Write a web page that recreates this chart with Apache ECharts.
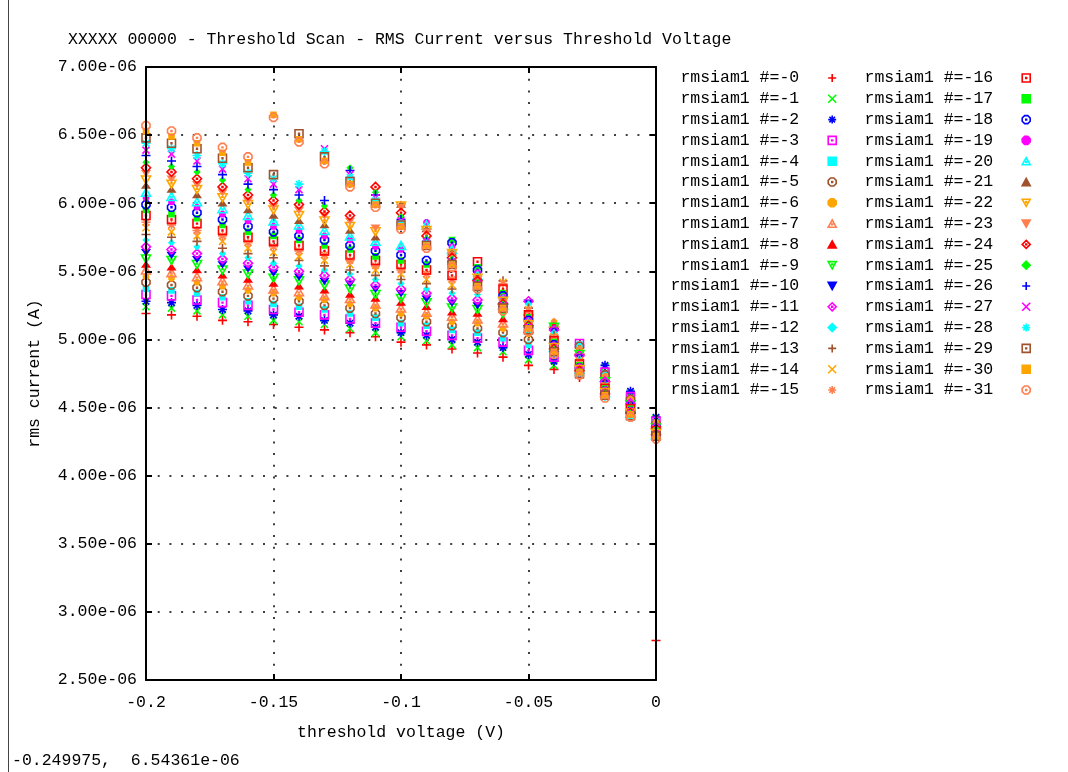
<!DOCTYPE html>
<html>
<head>
<meta charset="utf-8">
<script src="https://cdn.jsdelivr.net/npm/echarts@6/dist/echarts.min.js"></script>
<style>
  html, body { margin: 0; padding: 0; background: #fff; }
  #chart { width: 1068px; height: 772px; }
</style>
</head>
<body>
<div id="chart"></div>
<script>
// Threshold voltage steps (V)
const thresholdVoltage = [-0.20, -0.19, -0.18, -0.17, -0.16, -0.15, -0.14, -0.13, -0.12, -0.11,
                          -0.10, -0.09, -0.08, -0.07, -0.06, -0.05, -0.04, -0.03, -0.02, -0.01, 0];

// RMS current per channel, in units of 1e-06 A, one value per threshold step
const ch0  = [5.19,5.18,5.17,5.14,5.13,5.11,5.09,5.07,5.05,5.02,4.98,4.96,4.93,4.90,4.87,4.81,4.78,4.72,4.77,4.58,2.79];
const ch1  = [5.24,5.23,5.21,5.18,5.17,5.14,5.13,5.11,5.08,5.05,5.02,4.99,4.96,4.94,4.91,4.85,4.81,4.76,4.80,4.61,4.42];
const ch2  = [5.28,5.27,5.25,5.22,5.21,5.18,5.17,5.14,5.12,5.09,5.05,5.03,5.00,4.98,4.94,4.89,4.84,4.78,4.81,4.62,4.43];
const ch3  = [5.33,5.32,5.29,5.27,5.25,5.22,5.20,5.18,5.15,5.12,5.09,5.06,5.03,5.01,4.98,4.92,4.87,4.97,4.76,4.58,4.40];
const ch4  = [5.37,5.36,5.34,5.31,5.28,5.26,5.24,5.22,5.19,5.16,5.12,5.10,5.07,5.05,5.01,4.96,4.90,4.96,4.75,4.57,4.39];
const ch5  = [5.42,5.40,5.38,5.35,5.32,5.30,5.28,5.25,5.23,5.19,5.16,5.13,5.10,5.08,5.05,5.00,4.93,4.95,4.74,4.56,4.38];
const ch6  = [5.46,5.45,5.42,5.39,5.36,5.34,5.31,5.29,5.26,5.23,5.19,5.17,5.13,5.12,5.08,5.04,5.13,4.93,4.73,4.56,4.39];
const ch7  = [5.51,5.49,5.46,5.43,5.40,5.37,5.35,5.32,5.30,5.26,5.23,5.20,5.17,5.15,5.12,5.08,5.12,4.92,4.72,4.55,4.38];
const ch8  = [5.55,5.53,5.51,5.47,5.44,5.41,5.39,5.36,5.33,5.30,5.27,5.24,5.20,5.19,5.15,5.11,5.10,4.90,4.70,4.53,4.36];
const ch9  = [5.59,5.58,5.55,5.51,5.48,5.45,5.43,5.40,5.37,5.33,5.30,5.27,5.23,5.22,5.19,5.15,5.09,4.89,4.69,4.52,4.35];
const ch10 = [5.64,5.62,5.59,5.55,5.52,5.49,5.46,5.43,5.41,5.37,5.34,5.30,5.27,5.25,5.22,5.27,5.06,4.87,4.68,4.52,4.35];
const ch11 = [5.68,5.66,5.63,5.59,5.56,5.53,5.50,5.47,5.44,5.40,5.37,5.34,5.30,5.29,5.26,5.28,5.07,4.88,4.69,4.53,4.36];
const ch12 = [5.73,5.71,5.68,5.63,5.60,5.56,5.54,5.51,5.48,5.44,5.41,5.37,5.34,5.33,5.30,5.26,5.05,4.86,4.67,4.51,4.34];
const ch13 = [5.77,5.75,5.72,5.67,5.63,5.60,5.58,5.54,5.51,5.47,5.44,5.41,5.37,5.36,5.43,5.23,5.03,4.85,4.67,4.51,4.35];
const ch14 = [5.82,5.79,5.76,5.72,5.67,5.64,5.61,5.58,5.55,5.51,5.48,5.44,5.40,5.39,5.42,5.22,5.02,4.84,4.66,4.50,4.34];
const ch15 = [5.86,5.84,5.80,5.76,5.71,5.68,5.65,5.62,5.58,5.54,5.51,5.48,5.44,5.43,5.41,5.21,5.01,4.83,4.65,4.49,4.33];
const ch16 = [5.91,5.88,5.85,5.80,5.75,5.72,5.69,5.65,5.62,5.58,5.55,5.51,5.47,5.57,5.37,5.18,4.99,4.82,4.64,4.49,4.33];
const ch17 = [5.95,5.92,5.89,5.84,5.79,5.76,5.73,5.69,5.66,5.61,5.58,5.55,5.73,5.53,5.34,5.16,4.98,4.81,4.64,4.49,4.33];
const ch18 = [5.99,5.97,5.93,5.88,5.83,5.79,5.76,5.73,5.69,5.65,5.62,5.58,5.71,5.51,5.32,5.14,4.96,4.79,4.62,4.47,4.31];
const ch19 = [6.04,6.01,5.97,5.92,5.87,5.83,5.80,5.76,5.73,5.68,5.66,5.86,5.68,5.49,5.31,5.14,4.96,4.80,4.63,4.48,4.32];
const ch20 = [6.08,6.05,6.01,5.96,5.91,5.87,5.84,5.80,5.76,5.72,5.69,5.84,5.66,5.47,5.29,5.12,4.94,4.78,4.61,4.46,4.30];
const ch21 = [6.13,6.10,6.06,6.00,5.95,5.91,5.87,5.84,5.80,5.75,5.99,5.81,5.64,5.46,5.29,5.12,4.95,4.79,4.62,4.47,4.32];
const ch22 = [6.17,6.14,6.10,6.04,5.99,5.95,5.91,5.87,5.83,5.79,5.98,5.80,5.63,5.45,5.28,5.11,4.94,4.78,4.61,4.46,4.31];
const ch23 = [6.22,6.18,6.14,6.08,6.02,5.98,5.95,5.91,5.87,5.82,5.97,5.79,5.62,5.44,5.27,5.10,4.93,4.77,4.60,4.45,4.30];
const ch24 = [6.26,6.23,6.18,6.12,6.06,6.02,5.99,5.94,5.91,6.12,5.93,5.76,5.60,5.43,5.26,5.10,4.93,4.77,4.60,4.46,4.30];
const ch25 = [6.30,6.27,6.23,6.17,6.10,6.06,6.02,5.98,6.26,6.08,5.90,5.74,5.59,5.42,5.26,5.10,4.93,4.77,4.61,4.46,4.31];
const ch26 = [6.35,6.31,6.27,6.21,6.14,6.10,6.06,6.02,6.24,6.06,5.88,5.72,5.57,5.40,5.24,5.08,4.91,4.75,4.59,4.44,4.29];
const ch27 = [6.39,6.36,6.31,6.25,6.18,6.14,6.10,6.40,6.21,6.04,5.87,5.72,5.57,5.41,5.25,5.09,4.92,4.77,4.60,4.46,4.30];
const ch28 = [6.44,6.40,6.35,6.29,6.22,6.18,6.14,6.38,6.19,6.02,5.85,5.70,5.55,5.39,5.23,5.07,4.90,4.75,4.58,4.44,4.28];
const ch29 = [6.48,6.44,6.40,6.33,6.26,6.21,6.51,6.34,6.16,6.00,5.84,5.69,5.55,5.39,5.23,5.07,4.91,4.75,4.59,4.44,4.29];
const ch30 = [6.53,6.49,6.44,6.37,6.30,6.65,6.47,6.31,6.14,5.99,5.83,5.69,5.55,5.39,5.23,5.08,4.91,4.76,4.59,4.45,4.29];
const ch31 = [6.57,6.53,6.48,6.41,6.34,6.63,6.45,6.29,6.12,5.97,5.81,5.67,5.53,5.37,5.21,5.06,4.89,4.74,4.57,4.43,4.27];

const channels = [ch0, ch1, ch2, ch3, ch4, ch5, ch6, ch7, ch8, ch9, ch10, ch11, ch12, ch13, ch14, ch15,
                  ch16, ch17, ch18, ch19, ch20, ch21, ch22, ch23, ch24, ch25, ch26, ch27, ch28, ch29, ch30, ch31];

// Axis ticks (y in units of 1e-06 A)
const xTicks = { min: -0.2, max: 0, interval: 0.05 };
const yTicks = { min: 2.5, max: 7.0, interval: 0.5 };

const titleText = 'XXXXX 00000 - Threshold Scan - RMS Current versus Threshold Voltage';
const xName = 'threshold voltage (V)';
const yName = 'rms current (A)';
const cursorReadout = '-0.249975,  6.54361e-06';

const FONT = '"Liberation Mono", "DejaVu Sans Mono", monospace';
const FS = 16.5;

// Plotting colour cycle
const COLORS = ['#ff0000', '#00ff00', '#0000ff', '#ff00ff', '#00ffff', '#a0522d', '#ffa500', '#ff7f50'];

// Point type cycle: plus, cross, star, open/filled square, circle, triangle, inverted triangle, diamond
const POINT_TYPES = [
  { path: 'path://M5,0V10M0,5H10', filled: false, size: [9, 9] },
  { path: 'path://M0,0L10,10M10,0L0,10', filled: false, size: [7, 7] },
  { path: 'path://M5,0V10M0,5H10M1.5,1.5L8.5,8.5M8.5,1.5L1.5,8.5', filled: false, size: [9, 9] },
  { path: 'path://M0,0H10V10H0ZM4.5,4.5H5.5V5.5H4.5Z', filled: false, size: [8, 8] },
  { path: 'path://M0,0H10V10H0Z', filled: true, size: [5, 5] },
  { path: 'path://M3,0H7L10,3V7L7,10H3L0,7V3ZM4.5,4.5H5.5V5.5H4.5Z', filled: false, size: [8, 8] },
  { path: 'path://M3,0H7L10,3V7L7,10H3L0,7V3Z', filled: true, size: [5, 5] },
  { path: 'path://M5,0L10,9H0ZM4.5,5H5.5V6H4.5Z', filled: false, size: [9, 8] },
  { path: 'path://M5,0L10,9H0Z', filled: true, size: [7, 5] },
  { path: 'path://M0,0H10L5,9ZM4.5,3H5.5V4H4.5Z', filled: false, size: [9, 8] },
  { path: 'path://M0,0H10L5,9Z', filled: true, size: [7, 5] },
  { path: 'path://M5,0L10,5L5,10L0,5ZM4.5,4.5H5.5V5.5H4.5Z', filled: false, size: [9, 9] },
  { path: 'path://M5,0L10,5L5,10L0,5Z', filled: true, size: [5, 5] }
];

const names = channels.map((_, k) => 'rmsiam1 #=-' + k);

const series = channels.map((vals, k) => {
  const pt = POINT_TYPES[k % POINT_TYPES.length];
  const c = COLORS[k % COLORS.length];
  return {
    name: names[k],
    type: 'scatter',
    xAxisIndex: 0,
    yAxisIndex: 0,
    symbol: pt.path,
    symbolSize: pt.size,
    clip: false,
    silent: true,
    animation: false,
    itemStyle: {
      color: pt.filled ? c : 'rgba(0,0,0,0)',
      borderColor: c,
      borderWidth: 1.6,
      opacity: 1
    },
    emphasis: { disabled: true },
    data: thresholdVoltage.map((x, i) => [x, vals[i]])
  };
});

const txt = { fontFamily: FONT, fontSize: FS, color: '#000' };
const dotted = { color: '#000', width: 1.5, type: [2, 9.7] };
const frameLine = { show: true, onZero: false, lineStyle: { color: '#000', width: 2 } };
const frameTick = { show: true, inside: true, length: 6, lineStyle: { color: '#000', width: 2 } };

function frameAxis(position, ticks) {
  return Object.assign({
    type: 'value', position: position, z: 10,
    axisLine: frameLine, axisTick: frameTick,
    axisLabel: { show: false }, splitLine: { show: false }
  }, ticks);
}

function legendColumn(from, to, right) {
  return {
    data: names.slice(from, to),
    orient: 'vertical',
    align: 'right',
    right: right,
    top: 69.5,
    padding: 0,
    itemWidth: 8,
    itemHeight: 8,
    itemGap: 3.8,
    selectedMode: false,
    itemStyle: { borderWidth: 1.6 },
    textStyle: Object.assign({ padding: [0, 24, 0, 0] }, txt)
  };
}

const chart = echarts.init(document.getElementById('chart'), null, { renderer: 'canvas' });
chart.setOption({
  backgroundColor: '#fff',
  animation: false,
  title: {
    text: titleText,
    left: 63,
    top: 26,
    textStyle: Object.assign({ fontWeight: 'normal', lineHeight: 18 }, txt)
  },
  legend: [legendColumn(0, 16, 231), legendColumn(16, 32, 37)],
  grid: { left: 146, right: 412, top: 67, bottom: 92, containLabel: false, outerBoundsMode: 'none' },
  xAxis: [
    Object.assign({
      type: 'value', position: 'bottom',
      name: xName, nameLocation: 'middle', nameGap: 44, nameTextStyle: txt,
      axisLine: { show: false, onZero: false }, axisTick: { show: false },
      axisLabel: Object.assign({ margin: 14, showMinLabel: true, showMaxLabel: true }, txt),
      splitLine: { show: true, lineStyle: dotted }
    }, xTicks),
    frameAxis('top', xTicks),
    frameAxis('bottom', xTicks)
  ],
  yAxis: [
    Object.assign({
      type: 'value', position: 'left',
      name: yName, nameLocation: 'middle', nameGap: 103, nameRotate: 90, nameTextStyle: txt,
      axisLine: { show: false, onZero: false }, axisTick: { show: false },
      axisLabel: Object.assign({
        margin: 9, showMinLabel: true, showMaxLabel: true,
        formatter: v => v.toFixed(2) + 'e-06'
      }, txt),
      splitLine: { show: true, lineStyle: dotted }
    }, yTicks),
    frameAxis('right', yTicks),
    frameAxis('left', yTicks)
  ],
  graphic: [
    { type: 'line', shape: { x1: 8.5, y1: 0, x2: 8.5, y2: 772 }, style: { stroke: '#444', lineWidth: 1 }, silent: true },
    { type: 'text', left: 12, top: 752, style: { text: cursorReadout, font: FS + 'px ' + FONT, fill: '#000' }, silent: true }
  ],
  series: series
});
</script>
</body>
</html>
